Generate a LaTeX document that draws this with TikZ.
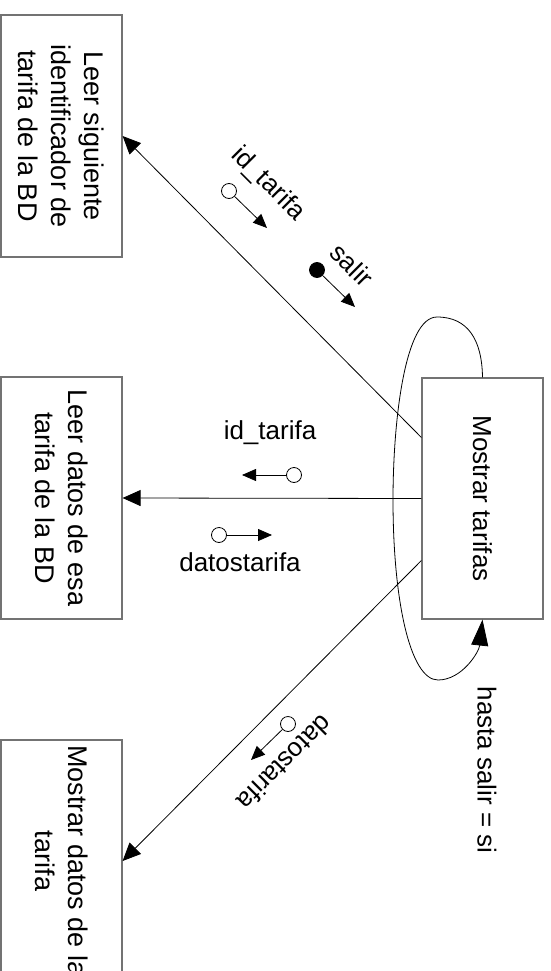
\documentclass[tikz,border=0pt]{standalone}
\usepackage{fontspec}
\setmainfont{Liberation Sans}
\usetikzlibrary{arrows.meta}
\begin{document}
\begin{tikzpicture}[x=1pt,y=-1pt,
  box/.style={draw=black!55, line width=1.2pt, rotate=-90, minimum width=242pt,
    minimum height=121pt, align=center, inner sep=0pt, font=\fontsize{27}{33}\selectfont},
  arr/.style={-{Triangle[length=18pt,width=16pt]}, line width=0.8pt},
  looparr/.style={-{Triangle[length=26pt,width=17pt]}, line width=0.8pt},
  carr/.style={-{Triangle[length=14pt,width=12pt]}, line width=0.8pt},
  couple/.style={circle, draw, line width=0.8pt, minimum size=15pt, inner sep=0pt, fill=white},
  fcouple/.style={couple, fill=black},
  lbl/.style={inner sep=0pt, font=\fontsize{26}{31}\selectfont}
]
\clip (0,0) rectangle (550,971);
\fill[white] (0,0) rectangle (550,971);

\node[box] (b1) at (61.5,136) {Leer siguiente\\identificador de\\tarifa de la BD};
\node[box] (b2) at (61.5,498) {Leer datos de esa\\tarifa de la BD};
\node[box] (b3) at (61.5,861) {Mostrar datos de la\\tarifa};
\node[box, minimum width=241pt, font=\fontsize{26}{31}\selectfont] (mt) at (482.5,498.5) {Mostrar tarifas};

\draw[arr] ([yshift=61pt]mt.south) -- (b1.north);
\draw[arr] (mt.south) -- (b2.north);
\draw[arr] ([yshift=-62pt]mt.south) -- (b3.north);

\draw[looparr] (mt.west) .. controls (482,340) and (468,317) .. (437,317)
  .. controls (405,317) and (393,420) .. (393,500)
  .. controls (393,600) and (410,680) .. (438,680)
  .. controls (462,680) and (479,652) .. (mt.east);

\node[lbl, rotate=-90] (hs) at (487,770) {hasta salir = si};

% couples on top line
\node[couple] (c1) at (229,191) {};
\coordinate (t1) at (267,228);
\draw[carr] (c1) -- (t1);
\node[lbl, rotate=-45] (l1) at (268,184) {id\_tarifa};

\node[fcouple] (c2) at (317,270) {};
\coordinate (t2) at (355,307);
\draw[carr] (c2) -- (t2);
\node[lbl, rotate=-45] (l2) at (352,265) {salir};

% couples on middle line
\node[couple] (c3) at (294,475) {};
\coordinate (t3) at (242,475);
\draw[carr] (c3) -- (t3);
\node[lbl] (l3) at (270,433) {id\_tarifa};

\node[couple] (c4) at (219,535) {};
\coordinate (t4) at (272,535);
\draw[carr] (c4) -- (t4);
\node[lbl] (l4) at (240,562) {datostarifa};

% couple on bottom line
\node[couple] (c5) at (288,724) {};
\coordinate (t5) at (251,760);
\draw[carr] (c5) -- (t5);
\node[lbl, rotate=225] (l5) at (285,763) {datostarifa};
\end{tikzpicture}
\end{document}
